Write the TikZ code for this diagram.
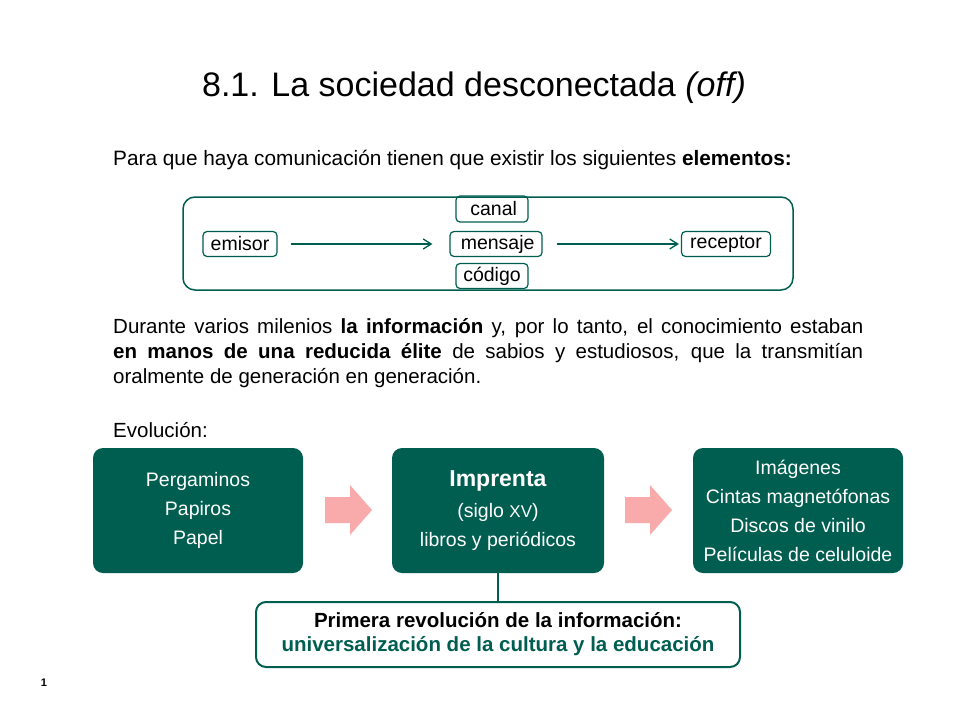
\documentclass[tikz,border=0pt]{standalone}
\usepackage{fontspec}
\setmainfont{Liberation Sans}
\usetikzlibrary{arrows.meta}
\definecolor{teal1}{HTML}{005E50}
\definecolor{pinkarr}{HTML}{F9AAAA}
\tikzset{
 sm/.style={draw=teal1,line width=1.2pt,rounded corners=4pt,inner sep=0pt,font=\fontsize{19.5}{22}\selectfont},
 bigbox/.style={fill=teal1,rounded corners=10pt,text=white,align=center,font=\fontsize{19.5}{29}\selectfont},
 conn/.style={teal1,line width=1.3pt,-{Straight Barb[length=8pt,width=10pt]}},
}
\begin{document}
\begin{tikzpicture}[x=1pt,y=-1pt]
\useasboundingbox (0,0) rectangle (960,720);
\node (title) at (474,88) {\fontsize{34}{38}\selectfont 8.1. La sociedad desconectada \textit{(off)}};
\node[anchor=west,inner sep=0] (p1) at (113,160) {\fontsize{20.8}{22}\selectfont Para que haya comunicación tienen que existir los siguientes \textbf{elementos:}};
\draw[teal1,line width=1.5pt,rounded corners=12pt] (183,197) rectangle (793,290);
\node[sm,minimum width=72pt,minimum height=26pt] (canal) at (492,209) {\,canal};
\node[sm,minimum width=92pt,minimum height=25pt] (mensaje) at (496,244) {\,mensaje};
\node[sm,minimum width=72pt,minimum height=25pt] (codigo) at (492,276) {código};
\node[sm,minimum width=74pt,minimum height=25pt] (emisor) at (240,244) {emisor};
\node[sm,minimum width=89pt,minimum height=25pt] (receptor) at (726,244) {receptor};
\draw[conn] ([xshift=13pt]emisor.east) -- ([xshift=-17pt]mensaje.west);
\draw[conn] ([xshift=14pt]mensaje.east) -- ([xshift=-2pt]receptor.west);
\node[anchor=north west,inner sep=0,text width=750pt,align=justify,font=\fontsize{20.5}{25}\selectfont] (p2) at (113,318) {Durante varios milenios \textbf{la información} y, por lo tanto, el conocimiento estaban\linebreak \textbf{en manos de una reducida élite} de sabios y estudiosos, que la transmitían\linebreak oralmente de generación en generación.};
\node[anchor=west,inner sep=0] (ev) at (113,430) {\fontsize{20.5}{22}\selectfont Evolución:};
\node[bigbox,minimum width=210pt,minimum height=125pt] (b1) at (198,510.5) {Pergaminos\\Papiros\\Papel};
\node[bigbox,minimum width=212pt,minimum height=125pt] (b2) at (498,510.5) {{\fontsize{23}{26}\selectfont\textbf{Imprenta}}\\[2pt](siglo {\fontsize{17}{16}\selectfont XV})\\libros y periódicos};
\node[bigbox,minimum width=210pt,minimum height=125pt] (b3) at (798,510.5) {Imágenes\\Cintas magnetófonas\\Discos de vinilo\\Películas de celuloide};
\fill[pinkarr] (325,497) -- (350,497) -- (350,485) -- (372,510) -- (350,535) -- (350,523) -- (325,523) -- cycle;
\fill[pinkarr] (625,497) -- (650,497) -- (650,485) -- (672,510) -- (650,535) -- (650,523) -- (625,523) -- cycle;
\node[draw=teal1,line width=2pt,rounded corners=10pt,minimum width=484pt,minimum height=65pt,align=center,font=\fontsize{20.5}{24}\selectfont] (rev) at (498,634.5) {\textbf{Primera revolución de la información:}\\\textcolor{teal1}{\textbf{universalización de la cultura y la educación}}};
\draw[teal1,line width=2pt] (b2.south) -- (rev.north);
\node (num) at (44,683) {\fontsize{11}{12}\selectfont\textbf{1}};
\end{tikzpicture}
\end{document}
